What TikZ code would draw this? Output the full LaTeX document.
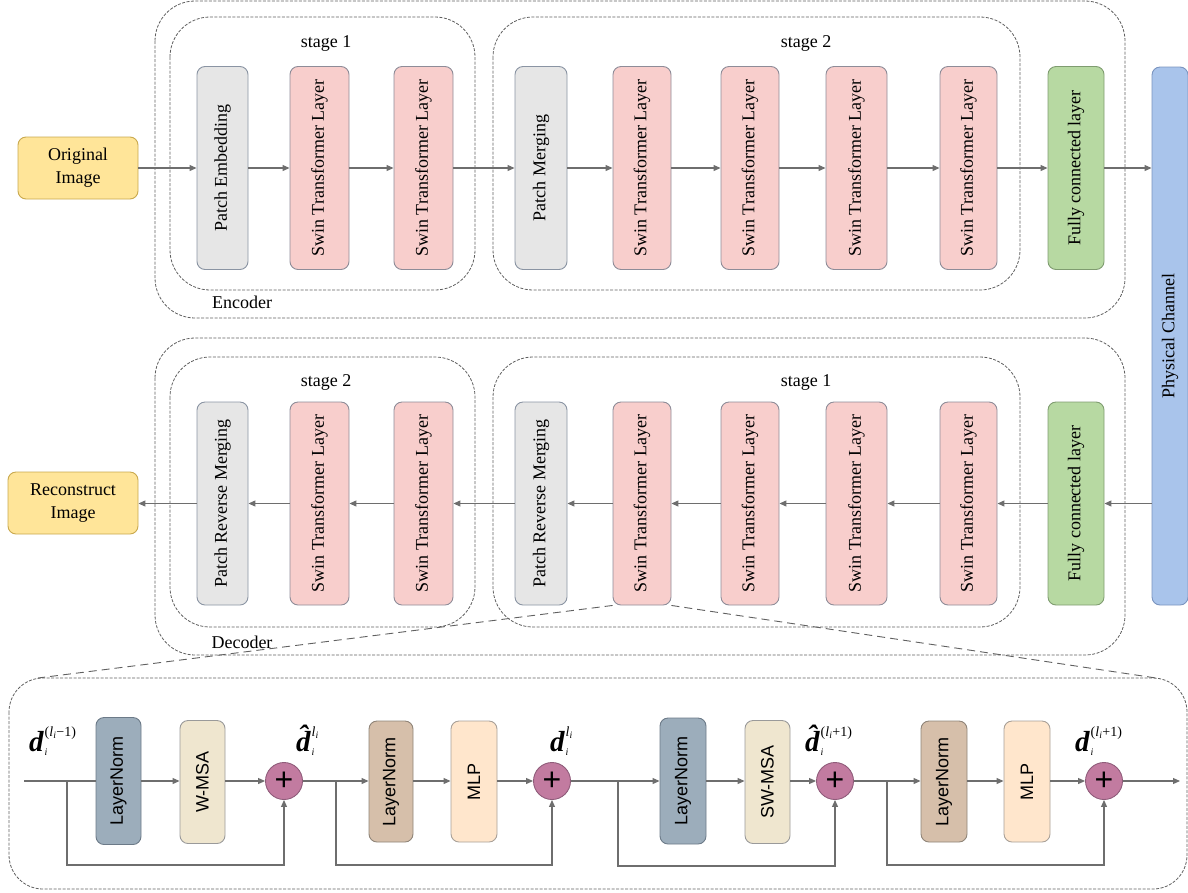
\documentclass[tikz,border=0pt]{standalone}
\usepackage{fontspec}
\setmainfont{Liberation Serif}
\newfontfamily\arialf{Liberation Sans}
\usetikzlibrary{arrows.meta}
\definecolor{lineC}{HTML}{6E6E6E}
\definecolor{dashC}{HTML}{606060}
\definecolor{imgF}{HTML}{FFE599}
\definecolor{imgD}{HTML}{C9A94E}
\definecolor{grayF}{HTML}{E6E6E6}
\definecolor{grayD}{HTML}{8A94A3}
\definecolor{pinkF}{HTML}{F8CECC}
\definecolor{pinkD}{HTML}{8E8C98}
\definecolor{greenF}{HTML}{B7D9A2}
\definecolor{greenD}{HTML}{7F9C70}
\definecolor{blueF}{HTML}{A9C4EB}
\definecolor{blueD}{HTML}{7A94BF}
\definecolor{lnAF}{HTML}{9CADBB}
\definecolor{lnAD}{HTML}{6C7A88}
\definecolor{msaF}{HTML}{EFE6CF}
\definecolor{msaD}{HTML}{9A9A9A}
\definecolor{lnBF}{HTML}{D6BFAA}
\definecolor{lnBD}{HTML}{8F8478}
\definecolor{mlpF}{HTML}{FFE6CC}
\definecolor{mlpD}{HTML}{A8A098}
\definecolor{plusF}{HTML}{C27BA0}
\definecolor{plusD}{HTML}{8F5C7A}
\newcommand\dlab[3]{{\fontsize{29}{29}\selectfont\bfseries\itshape #1}\kern1pt\makebox[0pt][l]{\raisebox{-4pt}{\fontsize{10}{10}\selectfont\itshape #2}}\raisebox{15pt}{\fontsize{14}{14}\selectfont #3}}
\begin{document}
\begin{tikzpicture}[x=1pt,y=-1pt,
  every node/.style={font=\fontsize{18}{23}\selectfont},
  blk/.style={draw, rounded corners=8pt, line width=0.9pt, inner sep=0pt, align=center},
  graybox/.style={blk, fill=grayF, draw=grayD},
  pinkbox/.style={blk, fill=pinkF, draw=pinkD},
  greenbox/.style={blk, fill=greenF, draw=greenD},
  imgbox/.style={blk, fill=imgF, draw=imgD, minimum height=62},
  cont/.style={draw=dashC, dash pattern=on 3pt off 1.5pt, line width=0.8pt, rounded corners=40pt},
  arr/.style={draw=lineC, line width=1.1pt, -{Triangle[length=7pt,width=6pt]}},
  ln/.style={draw=lineC, line width=1.1pt},
  zoomline/.style={draw=dashC, line width=0.9pt, dash pattern=on 8pt off 5pt},
  sbox/.style={blk, font=\arialf\fontsize{18}{18}\selectfont},
  plus/.style={circle, draw=plusD, fill=plusF, line width=0.9pt, minimum size=37, inner sep=0pt, font=\arialf\fontsize{32}{32}\selectfont}
]
\useasboundingbox (0,0) rectangle (1188,892);

% ---------- Encoder ----------
\draw[cont] (155,1) rectangle (1125,318);
\draw[cont] (170,17) rectangle (475,290);
\draw[cont] (493,17) rectangle (1020,290);
\node (st1) at (326,43) {stage 1};
\node (st2) at (806,43) {stage 2};
\node (enc) at (242,302) {Encoder};

\node[imgbox, minimum width=120] (orig) at (78,168) {Original\\Image};
\node[graybox, minimum width=51, minimum height=203] (pe) at (222.5,168) {\rotatebox{90}{Patch Embedding}};
\node[pinkbox, minimum width=59, minimum height=203] (e1) at (319.5,168) {\rotatebox{90}{Swin Transformer Layer}};
\node[pinkbox, minimum width=59, minimum height=203] (e2) at (423.5,168) {\rotatebox{90}{Swin Transformer Layer}};
\node[graybox, minimum width=52, minimum height=203] (pm) at (541,168) {\rotatebox{90}{Patch Merging}};
\node[pinkbox, minimum width=58, minimum height=203] (e3) at (642,168) {\rotatebox{90}{Swin Transformer Layer}};
\node[pinkbox, minimum width=58, minimum height=203] (e4) at (750,168) {\rotatebox{90}{Swin Transformer Layer}};
\node[pinkbox, minimum width=61, minimum height=203] (e5) at (856.5,168) {\rotatebox{90}{Swin Transformer Layer}};
\node[pinkbox, minimum width=57, minimum height=203] (e6) at (968.5,168) {\rotatebox{90}{Swin Transformer Layer}};
\node[greenbox, minimum width=56, minimum height=203] (fc1) at (1076,168) {\rotatebox{90}{Fully connected layer}};

\node[blk, fill=blueF, draw=blueD, minimum width=36, minimum height=538] (pc) at (1170,336) {\rotatebox{90}{Physical Channel}};

\draw[arr] (orig) -- (pe);
\draw[arr] (pe) -- (e1);
\draw[arr] (e1) -- (e2);
\draw[arr] (e2) -- (pm);
\draw[arr] (pm) -- (e3);
\draw[arr] (e3) -- (e4);
\draw[arr] (e4) -- (e5);
\draw[arr] (e5) -- (e6);
\draw[arr] (e6) -- (fc1);
\draw[arr] (fc1.east) -- (fc1.east -| pc.west);

% ---------- Decoder ----------
\draw[cont] (155,338) rectangle (1125,655);
\draw[cont] (170,357) rectangle (475,627);
\draw[cont] (493,357) rectangle (1020,627);
\node (dst2) at (326,382) {stage 2};
\node (dst1) at (806,382) {stage 1};
\node (dec) at (242,642) {Decoder};

\node[imgbox, minimum width=130] (recon) at (73,503) {Reconstruct\\Image};
\node[graybox, minimum width=51, minimum height=203] (prm2) at (222.5,503.5) {\rotatebox{90}{Patch Reverse Merging}};
\node[pinkbox, minimum width=59, minimum height=203] (d1) at (319.5,503.5) {\rotatebox{90}{Swin Transformer Layer}};
\node[pinkbox, minimum width=59, minimum height=203] (d2) at (423.5,503.5) {\rotatebox{90}{Swin Transformer Layer}};
\node[graybox, minimum width=52, minimum height=203] (prm1) at (541,503.5) {\rotatebox{90}{Patch Reverse Merging}};
\node[pinkbox, minimum width=58, minimum height=203] (d3) at (642,503.5) {\rotatebox{90}{Swin Transformer Layer}};
\node[pinkbox, minimum width=58, minimum height=203] (d4) at (750,503.5) {\rotatebox{90}{Swin Transformer Layer}};
\node[pinkbox, minimum width=61, minimum height=203] (d5) at (856.5,503.5) {\rotatebox{90}{Swin Transformer Layer}};
\node[pinkbox, minimum width=57, minimum height=203] (d6) at (968.5,503.5) {\rotatebox{90}{Swin Transformer Layer}};
\node[greenbox, minimum width=56, minimum height=203] (fc2) at (1076,503.5) {\rotatebox{90}{Fully connected layer}};

\draw[arr] (fc2.east -| pc.west) -- (fc2.east);
\draw[arr] (fc2) -- (d6);
\draw[arr] (d6) -- (d5);
\draw[arr] (d5) -- (d4);
\draw[arr] (d4) -- (d3);
\draw[arr] (d3) -- (prm1);
\draw[arr] (prm1) -- (d2);
\draw[arr] (d2) -- (d1);
\draw[arr] (d1) -- (prm2);
\draw[arr] (prm2.west) -- (prm2.west -| recon.east);

% ---------- Zoom panel ----------
\coordinate (pTL) at (38,678);
\coordinate (pTR) at (1156,678);
\draw[zoomline] (d3.south west) -- (pTL);
\draw[zoomline] (d3.south east) -- (pTR);
\draw[cont, rounded corners=34pt] (9,678) rectangle (1187,889);

\coordinate (start) at (24,781);
\node[sbox, fill=lnAF, draw=lnAD, minimum width=45, minimum height=127] (ln1) at (118.5,781) {\rotatebox{90}{LayerNorm}};
\node[sbox, fill=msaF, draw=msaD, minimum width=45, minimum height=123] (msa1) at (202.5,782) {\rotatebox{90}{W-MSA}};
\node[plus] (p1) at (284,781) {+};
\node[sbox, fill=lnBF, draw=lnBD, minimum width=44, minimum height=121] (ln2) at (391,781.5) {\rotatebox{90}{LayerNorm}};
\node[sbox, fill=mlpF, draw=mlpD, minimum width=46, minimum height=121] (mlp1) at (474,781.5) {\rotatebox{90}{MLP}};
\node[plus] (p2) at (552,781) {+};
\node[sbox, fill=lnAF, draw=lnAD, minimum width=46, minimum height=126] (ln3) at (683,781) {\rotatebox{90}{LayerNorm}};
\node[sbox, fill=msaF, draw=msaD, minimum width=45, minimum height=123] (msa2) at (767.5,782) {\rotatebox{90}{SW-MSA}};
\node[plus] (p3) at (835,781) {+};
\node[sbox, fill=lnBF, draw=lnBD, minimum width=46, minimum height=121] (ln4) at (944,781.5) {\rotatebox{90}{LayerNorm}};
\node[sbox, fill=mlpF, draw=mlpD, minimum width=46, minimum height=121] (mlp2) at (1027,781.5) {\rotatebox{90}{MLP}};
\node[plus] (p4) at (1104,781) {+};
\coordinate (end) at (1180,781);

\draw[ln] (start) -- (start -| ln1.west);
\draw[arr] (ln1.east |- start) -- (msa1.west |- start);
\draw[arr] (msa1.east |- start) -- (p1);
\draw[arr] (p1) -- (ln2.west |- start);
\draw[arr] (ln2.east |- start) -- (mlp1.west |- start);
\draw[arr] (mlp1.east |- start) -- (p2);
\draw[arr] (p2) -- (ln3.west |- start);
\draw[arr] (ln3.east |- start) -- (msa2.west |- start);
\draw[arr] (msa2.east |- start) -- (p3);
\draw[arr] (p3) -- (ln4.west |- start);
\draw[arr] (ln4.east |- start) -- (mlp2.west |- start);
\draw[arr] (mlp2.east |- start) -- (p4);
\draw[arr] (p4) -- (end);

\coordinate (b1) at (67,781);
\coordinate (b2) at (336,781);
\coordinate (b3) at (618,781);
\coordinate (b4) at (887,781);
\draw[arr] (b1) -- (67,865) -| (p1.south);
\draw[arr] (b2) -- (336,865) -| (p2.south);
\draw[arr] (b3) -- (618,866) -| (p3.south);
\draw[arr] (b4) -- (887,865) -| (p4.south);

\node[anchor=base west, inner sep=0pt] (lab0) at (29,751) {\dlab{d}{i}{(\textit{l}\textsubscript{\textit{i}}−1)}};
\node[anchor=base west, inner sep=0pt] (lab1) at (296,751) {\dlab{\^{d}}{i}{\textit{l}\textsubscript{\textit{i}}}};
\node[anchor=base west, inner sep=0pt] (lab2) at (550,751) {\dlab{d}{i}{\textit{l}\textsubscript{\textit{i}}}};
\node[anchor=base west, inner sep=0pt] (lab3) at (805,751) {\dlab{\^{d}}{i}{(\textit{l}\textsubscript{\textit{i}}+1)}};
\node[anchor=base west, inner sep=0pt] (lab4) at (1075,751) {\dlab{d}{i}{(\textit{l}\textsubscript{\textit{i}}+1)}};
\end{tikzpicture}
\end{document}
